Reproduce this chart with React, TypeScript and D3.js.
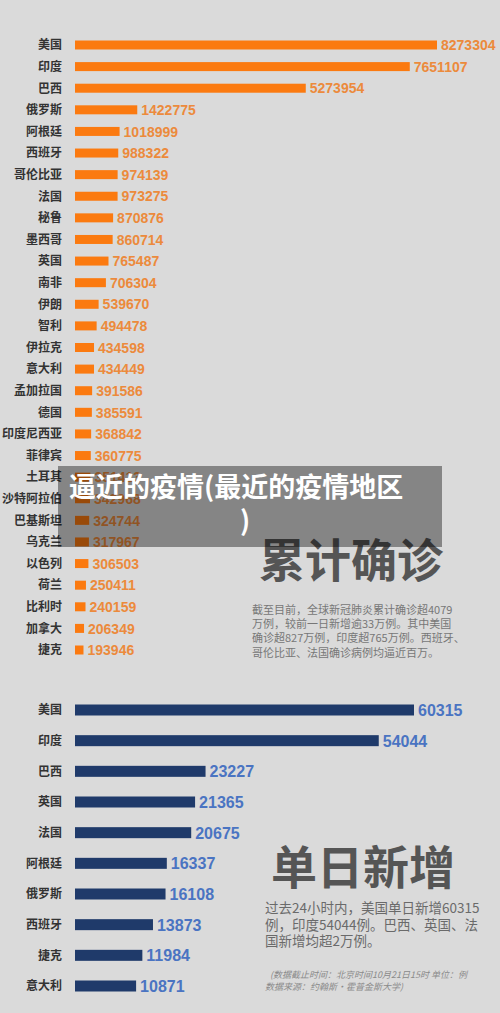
import React from "react";
import * as d3 from "d3";

const totalCountries = ["美国","印度","巴西","俄罗斯","阿根廷","西班牙","哥伦比亚","法国","秘鲁","墨西哥","英国","南非","伊朗","智利","伊拉克","意大利","孟加拉国","德国","印度尼西亚","菲律宾","土耳其","沙特阿拉伯","巴基斯坦","乌克兰","以色列","荷兰","比利时","加拿大","捷克"];
const totalValues = [8273304,7651107,5273954,1422775,1018999,988322,974139,973275,870876,860714,765487,706304,539670,494478,434598,434449,391586,385591,368842,360775,351413,342968,324744,317967,306503,250411,240159,206349,193946];

const dailyCountries = ["美国","印度","巴西","英国","法国","阿根廷","俄罗斯","西班牙","捷克","意大利"];
const dailyValues = [60315,54044,23227,21365,20675,16337,16108,13873,11984,10871];

const overlayTitle1 = "逼近的疫情(最近的疫情地区";
const overlayTitle2 = ")";
const totalHeading = "累计确诊";
const totalText = ["截至目前，全球新冠肺炎累计确诊超4079","万例，较前一日新增逾33万例。其中美国","确诊超827万例，印度超765万例。西班牙、","哥伦比亚、法国确诊病例均逼近百万。"];
const dailyHeading = "单日新增";
const dailyText = ["过去24小时内，美国单日新增60315","例，印度54044例。巴西、英国、法","国新增均超2万例。"];
const footnote = ["(数据截止时间：北京时间10月21日15时 单位：例","数据来源：约翰斯·霍普金斯大学)"];

const W = 500, H = 1013;
const CJK = "'Noto Sans CJK SC', 'Noto Sans', sans-serif";
const NUM = "'Liberation Sans', Arial, 'Noto Sans CJK SC', sans-serif";

export default function App() {
  const x1 = d3.scaleLinear().domain([0, d3.max(totalValues)!]).range([75, 437]);
  const y1 = d3.scalePoint<string>().domain(totalCountries).range([45, 650]);
  const x2 = d3.scaleLinear().domain([0, d3.max(dailyValues)!]).range([75, 414]);
  const y2 = d3.scalePoint<string>().domain(dailyCountries).range([710, 986]);

  return (
    <svg width={W} height={H} style={{ position: "absolute", left: 0, top: 0 }}>
      <rect x={0} y={0} width={W} height={H} fill="#dadada" />
      {/* top chart */}
      {totalCountries.map((c, i) => {
        const cy = y1(c)!;
        const v = totalValues[i];
        return (
          <g key={"t" + c}>
            <text x={62} y={cy} dy="0.36em" textAnchor="end" fontFamily={CJK} fontWeight={700} fontSize={12} fill="#333">{c}</text>
            <rect x={x1(0)} y={cy - 4.5} width={x1(v) - x1(0)} height={9} fill="#fb7a10" />
            <text x={x1(v) + 4} y={cy} dy="0.37em" fontFamily={NUM} fontWeight={700} fontSize={14} fill="#ec8a3c">{v}</text>
          </g>
        );
      })}
      <text x={259} y={577} fontFamily={CJK} fontWeight={700} fontSize={46} fill="#555">{totalHeading}</text>
      {totalText.map((t, i) => (
        <text key={"tt" + i} x={252} y={614 + i * 14.2} fontFamily={CJK} fontSize={11} fill="#777">{t}</text>
      ))}
      {/* overlay */}
      <rect x={58} y={466} width={384} height={81} fill="rgba(0,0,0,0.39)" />
      <text x={69} y={497} fontFamily={CJK} fontWeight={700} fontSize={27} fill="#fff">{overlayTitle1}</text>
      <text x={240} y={531} fontFamily={CJK} fontWeight={700} fontSize={27} fill="#fff">{overlayTitle2}</text>
      {/* bottom chart */}
      {dailyCountries.map((c, i) => {
        const cy = y2(c)!;
        const v = dailyValues[i];
        return (
          <g key={"d" + c}>
            <text x={62} y={cy} dy="0.36em" textAnchor="end" fontFamily={CJK} fontWeight={700} fontSize={12} fill="#333">{c}</text>
            <rect x={x2(0)} y={cy - 5.5} width={x2(v) - x2(0)} height={11} fill="#1f3a6a" />
            <text x={x2(v) + 4} y={cy} dy="0.37em" fontFamily={NUM} fontWeight={700} fontSize={16} fill="#4a74c2">{v}</text>
          </g>
        );
      })}
      <text x={271} y={884} fontFamily={CJK} fontWeight={700} fontSize={46} fill="#555">{dailyHeading}</text>
      {dailyText.map((t, i) => (
        <text key={"dt" + i} x={265} y={913 + i * 16.5} fontFamily={CJK} fontSize={13.5} fill="#6a6a6a">{t}</text>
      ))}
      {footnote.map((t, i) => (
        <text key={"fn" + i} x={i === 0 ? 270 : 265} y={978 + i * 12} fontFamily={CJK} fontStyle="italic" fontSize={9} fill="#8a8a8a">{t}</text>
      ))}
    </svg>
  );
}
